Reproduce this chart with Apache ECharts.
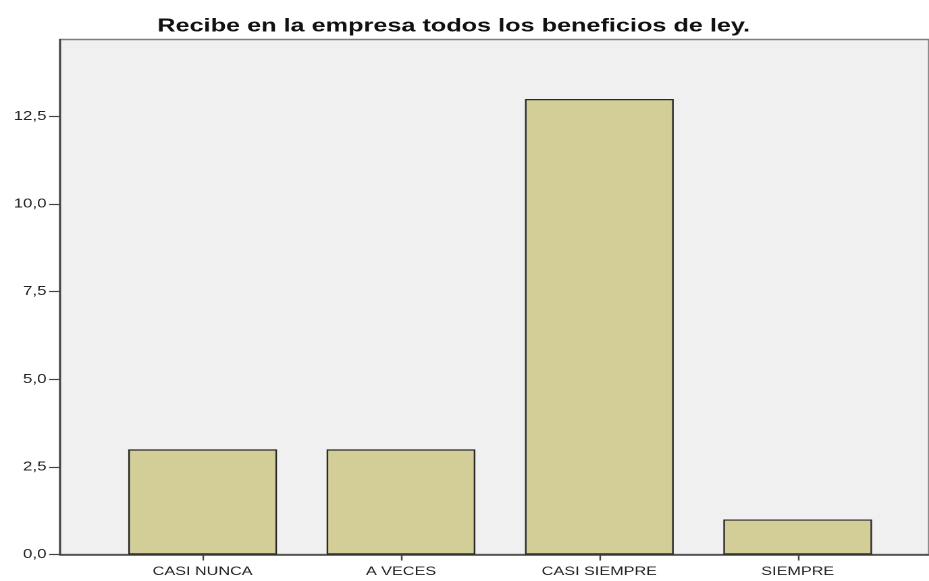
<!DOCTYPE html>
<html>
<head>
<meta charset="utf-8">
<script src="https://cdn.jsdelivr.net/npm/echarts@6/dist/echarts.min.js"></script>
<style>
	html, body { margin: 0; padding: 0; background: #fff; overflow: hidden; }
	/* the reference is a horizontally stretched SPSS export, so draw narrow and stretch */
	#main { width: 688px; height: 581px; transform: scaleX(1.3503); transform-origin: 0 0; }
</style>
</head>
<body>
<div id="main"></div>
<script>
	var titleText = 'Recibe en la empresa todos los beneficios de ley.';
	var categories = ['CASI NUNCA', 'A VECES', 'CASI SIEMPRE', 'SIEMPRE'];
	var counts = [3, 3, 13, 1];
	var yTicks = [0, 2.5, 5, 7.5, 10, 12.5];
	var yMax = 14.7;

	var myChart = echarts.init(document.getElementById('main'), null, { devicePixelRatio: 2 });

	var option = {
		backgroundColor: '#ffffff',
		animation: false,
		title: {
			text: titleText,
			left: 331,
			textAlign: 'center',
			top: 12,
			textStyle: {
				fontFamily: 'Liberation Sans',
				fontSize: 18.7,
				fontWeight: 'bold',
				color: '#111'
			}
		},
		grid: [{
			// background + y axis
			left: 44.4,
			right: -3,
			top: 39.5,
			bottom: 26.5,
			show: true,
			backgroundColor: '#f0f0f0',
			borderColor: '#808080',
			borderWidth: 1.5
		}, {
			// bars
			left: 76.6,
			right: 23.8,
			top: 39.5,
			bottom: 26.5
		}],
		xAxis: [{
			type: 'value',
			gridIndex: 0,
			min: 0,
			max: 1,
			axisLine: { show: true, lineStyle: { color: '#444', width: 1.6 } },
			axisTick: { show: false },
			axisLabel: { show: false },
			splitLine: { show: false }
		}, {
			type: 'category',
			gridIndex: 1,
			data: categories,
			axisLine: { show: false },
			axisTick: {
				show: true,
				alignWithLabel: true,
				length: 6,
				lineStyle: { color: '#444', width: 1.2 }
			},
			axisLabel: {
				margin: 11,
				fontFamily: 'Liberation Sans',
				fontSize: 12,
				color: '#222'
			},
			splitLine: { show: false }
		}],
		yAxis: [{
			type: 'value',
			gridIndex: 0,
			min: 0,
			max: yMax,
			axisLine: { show: true, lineStyle: { color: '#444', width: 1.3 } },
			axisTick: {
				show: true,
				length: 8,
				customValues: yTicks,
				lineStyle: { color: '#444', width: 1.2 }
			},
			axisLabel: {
				margin: 10,
				customValues: yTicks,
				fontFamily: 'Liberation Sans',
				fontSize: 12.5,
				color: '#222',
				formatter: function(v) {
					return v.toFixed(1).replace('.', ',');
				}
			},
			splitLine: { show: false }
		}, {
			type: 'value',
			gridIndex: 1,
			min: 0,
			max: yMax,
			show: false
		}],
		series: [{
			type: 'bar',
			xAxisIndex: 1,
			yAxisIndex: 1,
			barWidth: '75%',
			data: counts,
			itemStyle: {
				color: '#d3ce98',
				borderColor: '#2a2a2a',
				borderWidth: 1.2
			}
		}]
	};
	myChart.setOption(option);
</script>
</body>
</html>
